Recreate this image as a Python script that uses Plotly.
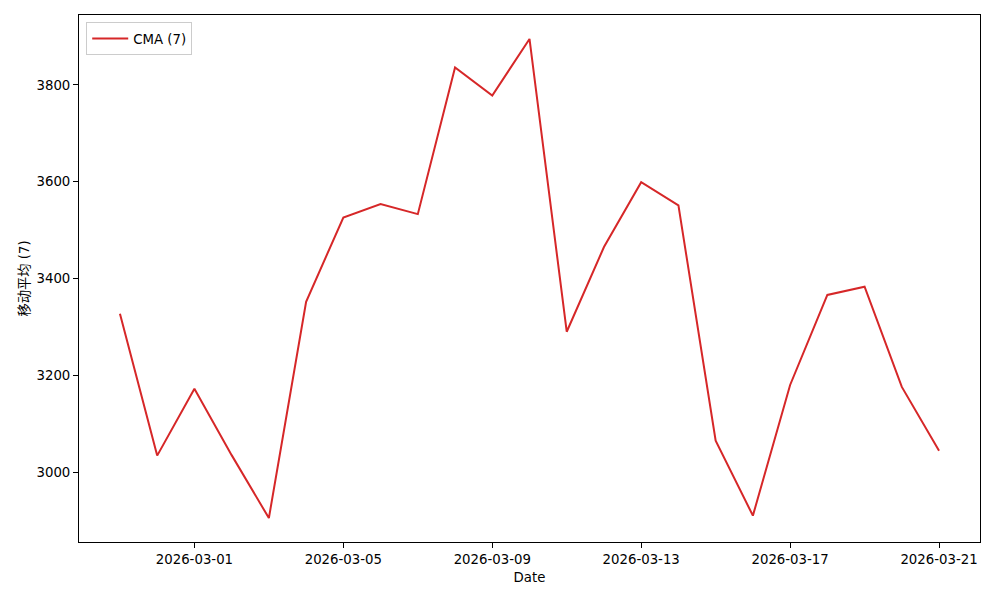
import plotly.graph_objects as go
import pandas as pd

dates = pd.date_range("2026-02-27", "2026-03-21", freq="D").strftime("%Y-%m-%d").tolist()
cma_values = [3327, 3034, 3172, 3035, 2905, 3352, 3526, 3554, 3533, 3836, 3778, 3895,
              3290, 3465, 3599, 3551, 3065, 2910, 3180, 3366, 3383, 3176, 3044]
series_name = "CMA (7)"
y_title = "移动平均 (7)"
x_title = "Date"
x_tick_vals = ["2026-03-01", "2026-03-05", "2026-03-09", "2026-03-13", "2026-03-17", "2026-03-21"]
y_tick_vals = [3000, 3200, 3400, 3600, 3800]

font_family = "DejaVu Sans, Noto Sans CJK SC, sans-serif"

fig = go.Figure()
fig.add_trace(go.Scatter(
    x=dates, y=cma_values, mode="lines", name=series_name,
    line=dict(color="#d62728", width=2),
))

fig.update_layout(
    width=1000, height=600,
    margin=dict(l=71, r=28, t=7, b=66),
    paper_bgcolor="white", plot_bgcolor="white",
    font=dict(family=font_family, size=13.3, color="black"),
    showlegend=True,
    legend=dict(
        x=0.008, y=0.986, xanchor="left", yanchor="top",
        bgcolor="rgba(255,255,255,0.8)", bordercolor="#cccccc", borderwidth=1,
        font=dict(size=13.3), itemwidth=36,
    ),
)
fig.update_xaxes(
    type="date", range=["2026-02-25 21:36", "2026-03-22 02:24"],
    tickvals=x_tick_vals, ticktext=x_tick_vals,
    ticks="outside", ticklen=5, tickwidth=1, tickcolor="black",
    showline=True, linecolor="black", linewidth=1, mirror=True,
    showgrid=False, zeroline=False,
    title=dict(text=x_title, font=dict(size=13.3), standoff=6),
)
fig.update_yaxes(
    range=[2855.5, 3944.5],
    tickvals=y_tick_vals,
    ticks="outside", ticklen=5, tickwidth=1, tickcolor="black",
    showline=True, linecolor="black", linewidth=1, mirror=True,
    showgrid=False, zeroline=False,
    title=dict(text=y_title, font=dict(size=13.3), standoff=3),
)

fig.write_html("out.html")
